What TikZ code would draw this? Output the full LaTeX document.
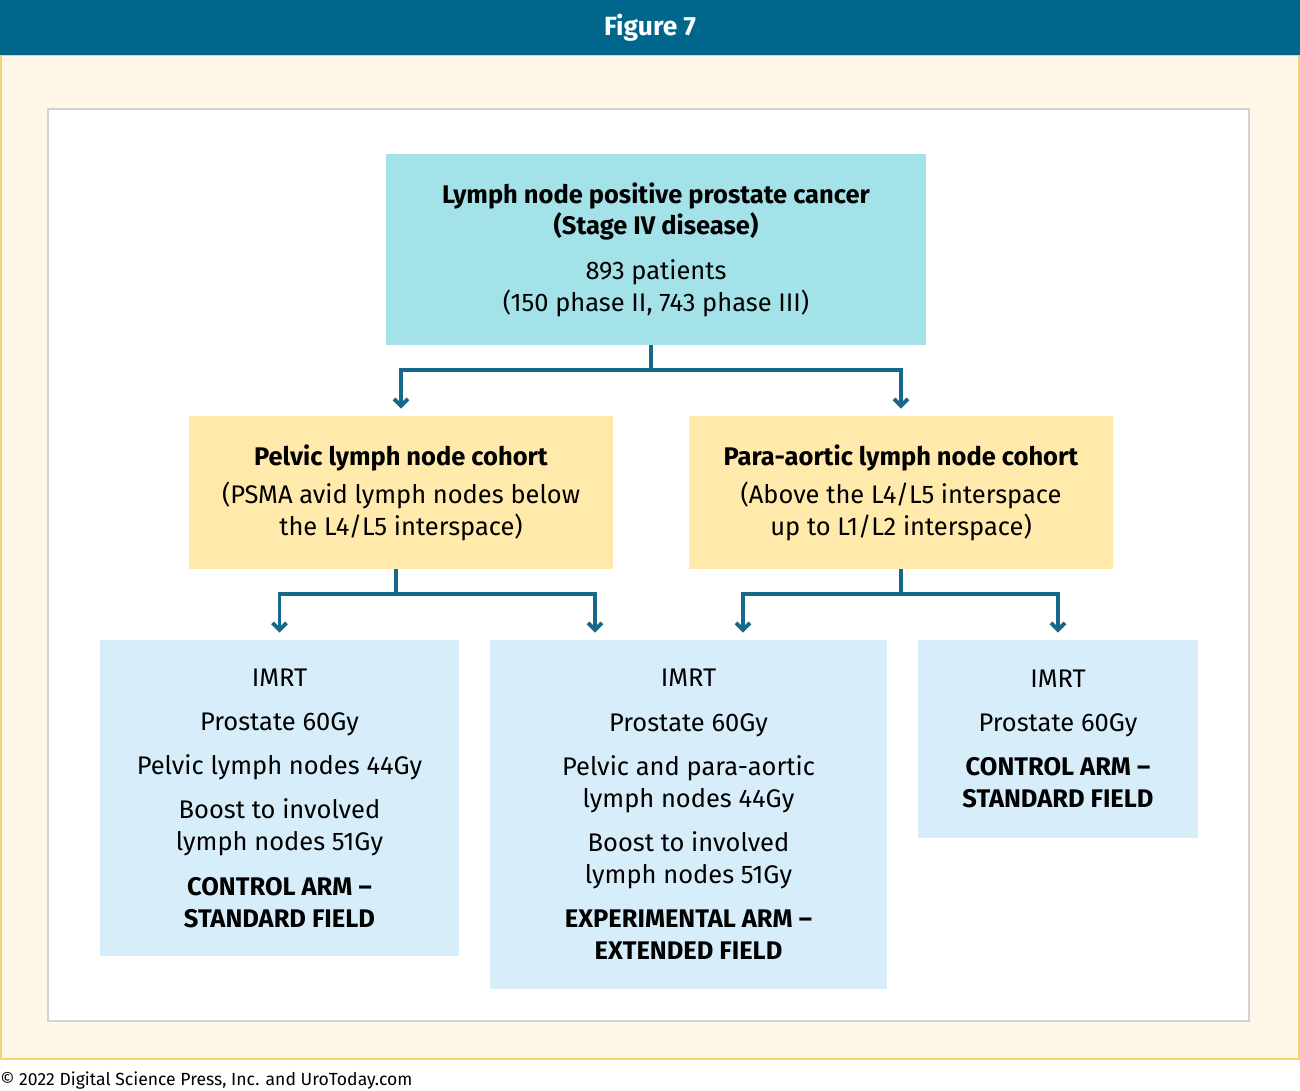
\documentclass[tikz,border=0pt]{standalone}
\usepackage{fontspec}
\setmainfont{Fira Sans}
\usetikzlibrary{arrows.meta,positioning}
\definecolor{headblue}{HTML}{00668B}
\definecolor{topteal}{HTML}{A3E2E8}
\definecolor{midyellow}{HTML}{FFE9AB}
\definecolor{botblue}{HTML}{D7EEFA}
\definecolor{flowblue}{HTML}{17688B}
\definecolor{framey}{HTML}{F6D46C}
\definecolor{cream}{HTML}{FFF8E8}
\definecolor{innergray}{HTML}{D2D2D2}
\tikzset{
  box/.style={rectangle, inner sep=0pt, align=center, font=\fontsize{14.5}{18.2}\selectfont},
  flow/.style={draw=flowblue, line width=2.2pt, -{Straight Barb[length=4pt,width=8pt]}, shorten >=4pt},
}
\begin{document}
\begin{tikzpicture}[x=0.02cm,y=-0.02cm]
    \useasboundingbox (0,0) rectangle (1300,1090);

    % frame and header
    \fill[cream] (0,55) rectangle (1300,1060);
    \draw[framey, line width=1.5pt] (0.5,55) rectangle (1299.5,1059);
    \fill[headblue] (0,0) rectangle (1300,55);
    \node[font=\fontsize{15}{18}\selectfont\bfseries, text=white] (title) at (650,28) {Figure 7};
    \draw[innergray, fill=white, line width=1pt] (48,109) rectangle (1249,1021);

    % boxes
    \node[box, fill=topteal, minimum width=10.8cm, minimum height=3.82cm] (top) at (656,249.5)
        {\textbf{Lymph node positive prostate cancer}\\\textbf{(Stage IV disease)}\\[7pt]
         893 patients\\(150 phase II, 743 phase III)};
    \node[box, fill=midyellow, minimum width=8.48cm, minimum height=3.06cm] (pelvic) at (401,492.5)
        {\textbf{Pelvic lymph node cohort}\\[3.5pt](PSMA avid lymph nodes below\\the L4/L5 interspace)};
    \node[box, fill=midyellow, minimum width=8.48cm, minimum height=3.06cm] (para) at (901,492.5)
        {\textbf{Para-aortic lymph node cohort}\\[3.5pt](Above the L4/L5 interspace\\up to L1/L2 interspace)};
    \node[box, fill=botblue, minimum width=7.18cm, minimum height=6.32cm] (armL) at (279.5,798)
        {IMRT\\[7pt]Prostate 60Gy\\[7pt]Pelvic lymph nodes 44Gy\\[7pt]Boost to involved\\lymph nodes 51Gy\\[7pt]
         \textbf{CONTROL ARM –}\\\textbf{STANDARD FIELD}};
    \node[box, fill=botblue, minimum width=7.94cm, minimum height=6.98cm] (armM) at (688.5,814.5)
        {IMRT\\[7pt]Prostate 60Gy\\[7pt]Pelvic and para-aortic\\lymph nodes 44Gy\\[7pt]Boost to involved\\lymph nodes 51Gy\\[7pt]
         \textbf{EXPERIMENTAL ARM –}\\\textbf{EXTENDED FIELD}};
    \node[box, fill=botblue, minimum width=5.6cm, minimum height=3.96cm] (armR) at (1058,739)
        {IMRT\\[7pt]Prostate 60Gy\\[7pt]\textbf{CONTROL ARM –}\\\textbf{STANDARD FIELD}};

    % connectors
    \draw[flow] ([xshift=-0.1cm]top.south) -- ++(0,-0.5cm) -| (pelvic.north);
    \draw[flow] ([xshift=-0.1cm]top.south) -- ++(0,-0.5cm) -| (para.north);
    \draw[flow] ([xshift=-0.1cm]pelvic.south) -- ++(0,-0.5cm) -| (armL.north);
    \draw[flow] ([xshift=-0.1cm]pelvic.south) -- ++(0,-0.5cm) -| ([xshift=-1.87cm]armM.north);
    \draw[flow] (para.south) -- ++(0,-0.5cm) -| ([xshift=1.09cm]armM.north);
    \draw[flow] (para.south) -- ++(0,-0.5cm) -| (armR.north);

    \node[anchor=west, inner sep=0pt, font=\fontsize{10}{12}\selectfont] (credit) at (0,1080)
        {© 2022 Digital Science Press, Inc. and UroToday.com};
\end{tikzpicture}
\end{document}
